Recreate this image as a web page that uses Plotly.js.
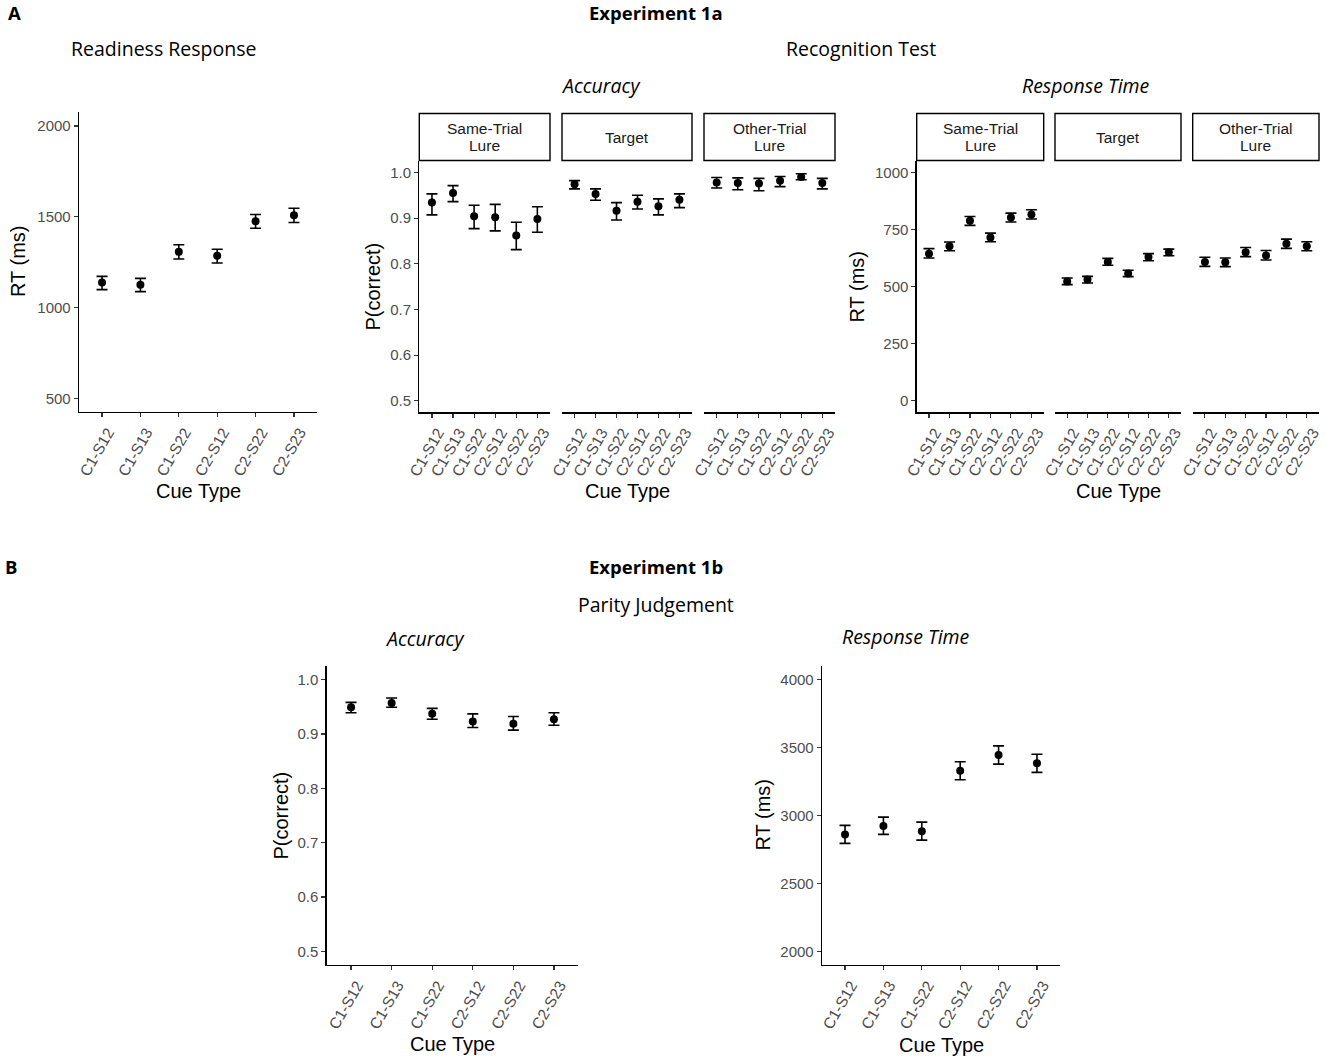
<!DOCTYPE html>
<html>
<head>
<meta charset="utf-8">
<script src="https://cdn.plot.ly/plotly-3.0.1.min.js"></script>
<style>html,body{margin:0;padding:0;background:#fff;}#chart{width:1325px;height:1057px;}</style>
</head>
<body>
<div id="chart"></div>
<script>
// ---------- DATA ----------
const cueTypes = ["C1-S12","C1-S13","C1-S22","C2-S12","C2-S22","C2-S23"];
const facetNames = ["Same-Trial Lure","Target","Other-Trial Lure"];

// Experiment 1a - Readiness response RT (ms)
const readyMean = [1138, 1126, 1307, 1285, 1476, 1508];
const readyHi   = [1172, 1161, 1346, 1321, 1513, 1547];
const readyLo   = [1099, 1088, 1268, 1246, 1437, 1469];

// Experiment 1a - Recognition accuracy P(correct)
const accSameMean = [0.934, 0.955, 0.904, 0.902, 0.862, 0.898];
const accSameHi   = [0.953, 0.971, 0.928, 0.930, 0.891, 0.925];
const accSameLo   = [0.907, 0.936, 0.877, 0.872, 0.831, 0.869];
const accTargMean = [0.974, 0.953, 0.916, 0.936, 0.926, 0.940];
const accTargHi   = [0.982, 0.964, 0.934, 0.950, 0.942, 0.953];
const accTargLo   = [0.964, 0.939, 0.896, 0.920, 0.907, 0.923];
const accOthMean  = [0.978, 0.977, 0.976, 0.982, 0.990, 0.977];
const accOthHi    = [0.989, 0.988, 0.987, 0.991, 0.997, 0.987];
const accOthLo    = [0.966, 0.962, 0.960, 0.969, 0.984, 0.964];

// Experiment 1a - Recognition RT (ms)
const rtSameMean = [645, 677, 789, 716, 804, 817];
const rtSameHi   = [667, 696, 808, 735, 823, 838];
const rtSameLo   = [626, 658, 769, 697, 784, 797];
const rtTargMean = [523, 531, 608, 558, 630, 651];
const rtTargHi   = [538, 545, 624, 572, 645, 665];
const rtTargLo   = [509, 516, 594, 544, 614, 636];
const rtOthMean  = [608, 607, 651, 637, 689, 677];
const rtOthHi    = [629, 626, 672, 659, 709, 697];
const rtOthLo    = [589, 588, 632, 617, 668, 658];

// Experiment 1b - Parity judgement
const parAccMean = [0.949, 0.957, 0.937, 0.923, 0.919, 0.927];
const parAccHi   = [0.958, 0.966, 0.947, 0.937, 0.932, 0.939];
const parAccLo   = [0.939, 0.949, 0.927, 0.912, 0.907, 0.916];
const parRtMean  = [2861, 2922, 2885, 3329, 3446, 3385];
const parRtHi    = [2927, 2988, 2951, 3395, 3512, 3451];
const parRtLo    = [2795, 2861, 2819, 3263, 3378, 3317];

// ---------- LAYOUT HELPERS ----------
const W = 1325, H = 1057;
const px = x => x / W;
const py = y => 1 - y / H;
const SANS = "Liberation Sans";
const yTickFont = {family: SANS, size: 15, color: "#4d4d4d"};
const xTickFont = {family: SANS, size: 15.5, color: "#4d4d4d"};
const titleFont = {family: SANS, size: 20, color: "#000"};
const headFont = "Open Sans";

function trace(mean, hi, lo, n) {
  return {
    type: "scatter", mode: "markers",
    x: cueTypes, y: mean,
    xaxis: "x" + (n === 1 ? "" : n), yaxis: "y" + (n === 1 ? "" : n),
    marker: {color: "#000", size: 8},
    error_y: {type: "data", symmetric: false,
      array: hi.map((h, i) => h - mean[i]),
      arrayminus: lo.map((l, i) => mean[i] - l),
      color: "#000", thickness: 1.6, width: 5.5},
    showlegend: false, hoverinfo: "x+y"
  };
}

const data = [
  trace(readyMean, readyHi, readyLo, 1),
  trace(accSameMean, accSameHi, accSameLo, 2),
  trace(accTargMean, accTargHi, accTargLo, 3),
  trace(accOthMean, accOthHi, accOthLo, 4),
  trace(rtSameMean, rtSameHi, rtSameLo, 5),
  trace(rtTargMean, rtTargHi, rtTargLo, 6),
  trace(rtOthMean, rtOthHi, rtOthLo, 7),
  trace(parAccMean, parAccHi, parAccLo, 8),
  trace(parRtMean, parRtHi, parRtLo, 9)
];

function xax(x0, x1) {
  return {domain: [px(x0), px(x1)], type: "category",
    categoryarray: cueTypes, categoryorder: "array", range: [-0.6, 5.6],
    showline: true, linecolor: "#000", linewidth: 1.3, showgrid: false, zeroline: false,
    ticks: "outside", ticklen: 4, tickcolor: "#333", tickwidth: 1.1,
    tickangle: -60, tickfont: xTickFont, ticklabelshift: 6, ticklabelstandoff: 0,
    fixedrange: true};
}
function yax(y0, y1, range, tickvals, ticktext, visible) {
  const a = {domain: [py(y1), py(y0)], range: range, showgrid: false, zeroline: false,
    fixedrange: true};
  if (visible) {
    Object.assign(a, {showline: true, linecolor: "#000", linewidth: 1.3,
      ticks: "outside", ticklen: 4, tickcolor: "#333", tickwidth: 1.1,
      tickvals: tickvals, ticktext: ticktext, tickfont: yTickFont});
  } else {
    Object.assign(a, {visible: false});
  }
  return a;
}

const layout = {
  width: W, height: H, margin: {l: 0, r: 0, t: 0, b: 0},
  paper_bgcolor: "#fff", plot_bgcolor: "rgba(0,0,0,0)", showlegend: false,
  annotations: [], shapes: []
};

const accTicks = [0.5, 0.6, 0.7, 0.8, 0.9, 1.0];
const accText = ["0.5", "0.6", "0.7", "0.8", "0.9", "1.0"];
const facetAccX = [[419.3, 550], [562, 692], [704, 835]];
const facetRtX = [[916.7, 1043.7], [1055, 1181], [1192.7, 1319]];

// axis 1
layout.xaxis = xax(79, 317); layout.xaxis.anchor = "y";
layout.yaxis = yax(112.4, 412, [425, 2075], [500, 1000, 1500, 2000], ["500", "1000", "1500", "2000"], true);
layout.yaxis.anchor = "x";
// axes 2-4
facetAccX.forEach((d, i) => {
  const n = i + 2;
  layout["xaxis" + n] = xax(d[0], d[1]); layout["xaxis" + n].anchor = "y" + n;
  layout["yaxis" + n] = yax(161, 412.3, [0.475, 1.025], accTicks, accText, i === 0);
  layout["yaxis" + n].anchor = "x" + n;
});
// axes 5-7
facetRtX.forEach((d, i) => {
  const n = i + 5;
  layout["xaxis" + n] = xax(d[0], d[1]); layout["xaxis" + n].anchor = "y" + n;
  layout["yaxis" + n] = yax(161, 412.3, [-52, 1052], [0, 250, 500, 750, 1000], ["0", "250", "500", "750", "1000"], i === 0);
  layout["yaxis" + n].anchor = "x" + n;
});
// axes 8-9
layout.xaxis8 = xax(326.7, 578.3); layout.xaxis8.anchor = "y8";
layout.yaxis8 = yax(666, 965, [0.475, 1.025], accTicks, accText, true); layout.yaxis8.anchor = "x8";
layout.xaxis9 = xax(822, 1060); layout.xaxis9.anchor = "y9";
layout.yaxis9 = yax(666, 965, [1900, 4100], [2000, 2500, 3000, 3500, 4000], ["2000", "2500", "3000", "3500", "4000"], true);
layout.yaxis9.anchor = "x9";

// strips
function strip(x0, x1, name) {
  layout.shapes.push({type: "rect", xref: "paper", yref: "paper",
    x0: px(x0), x1: px(x1), y0: py(160.5), y1: py(113.5),
    line: {color: "#000", width: 1.4}, fillcolor: "#fff"});
  const cx = px((x0 + x1) / 2);
  const sf = {family: SANS, size: 15.5, color: "#1a1a1a"};
  const parts = name.endsWith(" Lure") ? [name.replace(" Lure", ""), "Lure"] : [name];
  if (parts.length === 2) {
    layout.annotations.push({xref: "paper", yref: "paper", x: cx, y: py(129), text: parts[0], showarrow: false, xanchor: "center", yanchor: "middle", font: sf});
    layout.annotations.push({xref: "paper", yref: "paper", x: cx, y: py(146), text: parts[1], showarrow: false, xanchor: "center", yanchor: "middle", font: sf});
  } else {
    layout.annotations.push({xref: "paper", yref: "paper", x: cx, y: py(137.5), text: parts[0], showarrow: false, xanchor: "center", yanchor: "middle", font: sf});
  }
}
facetAccX.forEach((d, i) => strip(d[0], d[1], facetNames[i]));
facetRtX.forEach((d, i) => strip(d[0], d[1], facetNames[i]));

function ann(x, y, text, font, angle) {
  const a = {xref: "paper", yref: "paper", x: px(x), y: py(y), text: text, showarrow: false,
    xanchor: "center", yanchor: "middle", font: font};
  if (angle !== undefined) a.textangle = angle;
  layout.annotations.push(a);
}
// axis titles
ann(18, 262, "RT (ms)", titleFont, -90);
ann(372, 286.5, "P(correct)", titleFont, -90);
ann(856, 286.5, "RT (ms)", titleFont, -90);
ann(280, 815.5, "P(correct)", titleFont, -90);
ann(762, 815.5, "RT (ms)", titleFont, -90);
ann(198, 491, "Cue Type", titleFont);
ann(627, 491, "Cue Type", titleFont);
ann(1118, 491, "Cue Type", titleFont);
ann(452, 1044, "Cue Type", titleFont);
ann(941, 1045, "Cue Type", titleFont);

// headings
const hBold = {family: headFont, size: 18.5, color: "#000", weight: 700};
const hReg = {family: headFont, size: 19.5, color: "#000"};
const hIt = {family: headFont, size: 19.5, color: "#000", style: "italic"};
ann(14, 12, "<b>A</b>", hBold);
ann(656, 12, "<b>Experiment 1a</b>", hBold);
ann(163, 48, "Readiness Response", hReg);
ann(861, 48, "Recognition Test", hReg);
ann(600, 85, "<i>Accuracy</i>", hIt);
ann(1086, 85, "<i>Response Time</i>", hIt);
ann(11, 566, "<b>B</b>", hBold);
ann(656, 566, "<b>Experiment 1b</b>", hBold);
ann(656, 604, "Parity Judgement", hReg);
ann(424, 638, "<i>Accuracy</i>", hIt);
ann(906, 636, "<i>Response Time</i>", hIt);

Plotly.newPlot("chart", data, layout, {displayModeBar: false, staticPlot: true});
</script>
</body>
</html>
